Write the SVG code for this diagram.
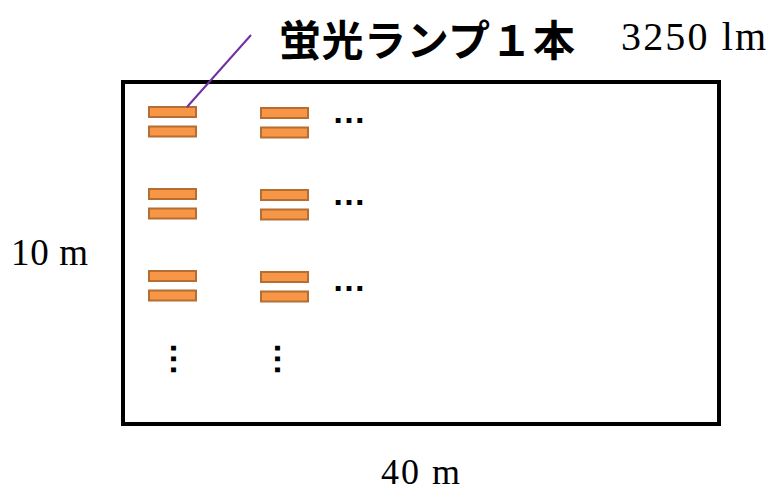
<svg xmlns="http://www.w3.org/2000/svg" width="771" height="494" viewBox="0 0 771 494">
  <style>
    .room { fill: none; stroke: #000; stroke-width: 4; }
    .lamp { fill: #F79646; stroke: #B66D31; stroke-width: 2; }
    .leader { stroke: #7030A0; stroke-width: 2; fill: none; }
    .title { font-family: "Noto Sans CJK JP", sans-serif; font-weight: 700; font-size: 42px; fill: #000; }
    .dim { font-family: "Liberation Serif", serif; fill: #000; }
    .dots { font-family: "Liberation Sans", Arial, sans-serif; font-weight: 700; font-size: 34px; fill: #000; }
  </style>
  <defs>
    <g id="lampPair">
      <rect class="lamp" x="0" y="0" width="47" height="10"/>
      <rect class="lamp" x="0" y="19.5" width="47" height="10"/>
    </g>
  </defs>

  <rect class="room" x="123" y="82" width="596" height="342"/>

  <g id="lamps">
    <use href="#lampPair" x="149" y="107"/>
    <use href="#lampPair" x="261" y="108"/>
    <use href="#lampPair" x="149" y="189"/>
    <use href="#lampPair" x="261" y="190"/>
    <use href="#lampPair" x="149" y="271"/>
    <use href="#lampPair" x="261" y="272"/>
  </g>

  <g id="ellipses">
    <text class="dots" x="332" y="123">…</text>
    <text class="dots" x="332" y="205">…</text>
    <text class="dots" x="332" y="291">…</text>
    <text class="dots" transform="translate(171 342) rotate(90)">…</text>
    <text class="dots" transform="translate(275 342) rotate(90)">…</text>
  </g>

  <g id="connectors">
    <line class="leader" x1="187" y1="107" x2="251" y2="35"/>
  </g>

  <text class="title" x="279" y="56" textLength="296">蛍光ランプ１本</text>
  <text class="dim" x="621" y="50" font-size="40" textLength="145">3250 lm</text>
  <text class="dim" x="11" y="265" font-size="37" textLength="77">10 m</text>
  <text class="dim" x="381" y="484" font-size="36" textLength="79">40 m</text>
</svg>
